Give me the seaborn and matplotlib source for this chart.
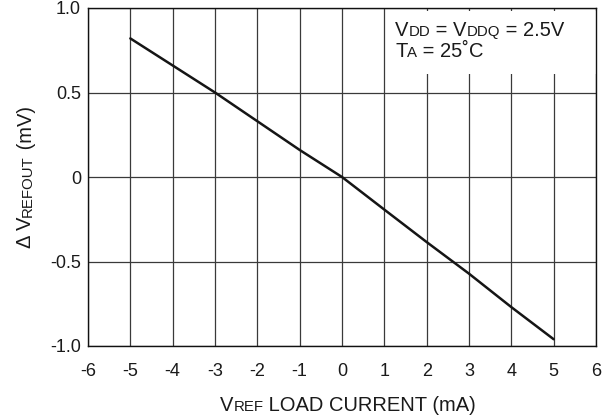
import matplotlib
matplotlib.use("Agg")
import matplotlib.pyplot as plt
import seaborn as sns
import pandas as pd
from matplotlib.patches import Rectangle
from matplotlib.transforms import Bbox

# ---- data ----
load_current = [-5, -4, -3, -2, -1, 0, 1, 2, 3, 4, 5]
delta_vrefout = [0.82, 0.66, 0.50, 0.33, 0.16, 0.0, -0.193, -0.385, -0.572, -0.77, -0.96]
x_ticks = [-6, -5, -4, -3, -2, -1, 0, 1, 2, 3, 4, 5, 6]
x_tick_labels = ["-6", "-5", "-4", "-3", "-2", "-1", "0", "1", "2", "3", "4", "5", "6"]
y_ticks = [-1.0, -0.5, 0.0, 0.5, 1.0]
y_tick_labels = ["-1.0", "-0.5", "0", "0.5", "1.0"]

sns.set_style("white")
plt.rcParams['font.family'] = ['Liberation Sans', 'DejaVu Sans']

W, H = 607, 418
fig = plt.figure(figsize=(W / 100, H / 100), dpi=100)
L, R, T, B = 88, 596, 8, 346
ax = fig.add_axes([L / W, 1 - B / H, (R - L) / W, (B - T) / H])

df = pd.DataFrame({"current": load_current, "dv": delta_vrefout})
sns.lineplot(data=df, x="current", y="dv", ax=ax, color="#151515", linewidth=1.8, zorder=3)

ax.set_xlim(-6, 6)
ax.set_ylim(-1, 1)
ax.set_xticks(x_ticks)
ax.set_xticklabels(x_tick_labels)
ax.set_yticks(y_ticks)
ax.set_yticklabels(y_tick_labels)
ax.grid(True, color="#3a3a3a", linewidth=0.9)
ax.tick_params(length=0, labelsize=13, colors="#1a1a1a")
ax.tick_params(axis='x', pad=12)
ax.tick_params(axis='y', pad=5)
for s in ax.spines.values():
    s.set_color('#111111')
    s.set_linewidth(1.0)
ax.set_xlabel("")
ax.set_ylabel("")

# white annotation box covering grid
ax.add_patch(Rectangle((1.03, 0.61), 6 - 1.03, 0.982 - 0.61, facecolor='white',
                       edgecolor='none', zorder=1))

BIG, SMALL = 14.5, 10.8
DESC = 0.212  # descent fraction of em for Liberation Sans


def rich(pieces, px, py, rotation=0):
    """pieces: list of (text, size). px,py in pixels from top-left."""
    if rotation == 0:
        first = fig.text(px / W, 1 - py / H, pieces[0][0], fontsize=pieces[0][1],
                         ha='left', va='bottom', color='#1a1a1a')
    else:
        first = fig.text(px / W, 1 - py / H, pieces[0][0], fontsize=pieces[0][1],
                         ha='right', va='bottom', rotation=90, color='#1a1a1a')
    arts = [first]
    prev = first
    prev_fs = pieces[0][1]
    for s, fs in pieces[1:]:
        off = DESC * (prev_fs - fs)
        if rotation == 0:
            a = ax.annotate(s, xy=(1, 0), xycoords=prev, xytext=(0, off),
                            textcoords='offset points', ha='left', va='bottom',
                            fontsize=fs, annotation_clip=False, color='#1a1a1a')
        else:
            a = ax.annotate(s, xy=(1, 1), xycoords=prev, xytext=(-off, 0),
                            textcoords='offset points', ha='right', va='bottom',
                            rotation=90, fontsize=fs, annotation_clip=False, color='#1a1a1a')
        arts.append(a)
        prev = a
        prev_fs = fs
    return arts


def center(arts, cx=None, cy=None):
    fig.canvas.draw()
    r = fig.canvas.get_renderer()
    bb = Bbox.union([a.get_window_extent(r) for a in arts])
    x0, y0 = arts[0].get_position()
    if cx is not None:
        dx = cx - (bb.x0 + bb.x1) / 2
        x0 += dx / W
    if cy is not None:
        cyd = H - cy
        dy = cyd - (bb.y0 + bb.y1) / 2
        y0 += dy / H
    arts[0].set_position((x0, y0))


# annotation text
rich([("V", BIG), ("DD", SMALL), (" = V", BIG), ("DDQ", SMALL), (" = 2.5V", BIG)], 395, 40)
rich([("T", BIG), ("A", SMALL), (" = 25˚C", BIG)], 395, 61)

# x label
xl = rich([("V", BIG), ("REF", SMALL), (" LOAD CURRENT (mA)", BIG)], 200, 415)
center(xl, cx=348)

# y label
yl = rich([("Δ V", BIG), ("REFOUT", SMALL), (" (mV)", BIG)], 35.5, 300, rotation=90)
center(yl, cy=177)

fig.savefig("out.png", dpi=100)
